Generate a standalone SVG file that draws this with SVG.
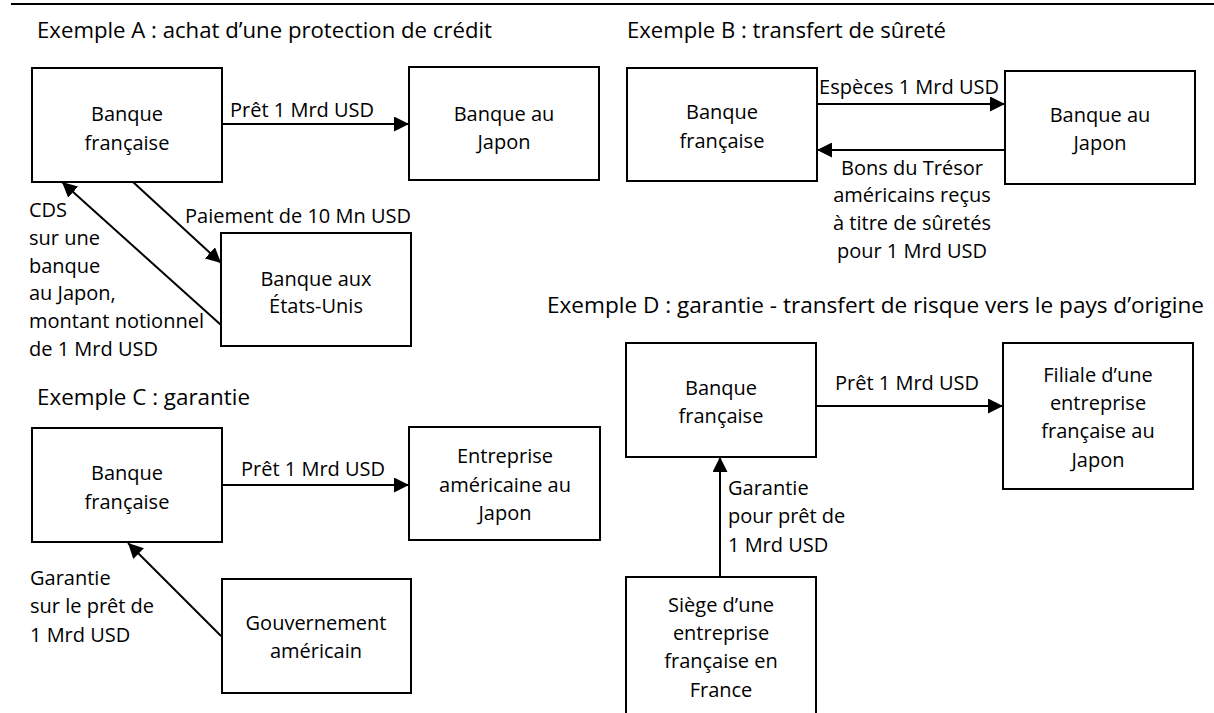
<svg xmlns="http://www.w3.org/2000/svg" width="1214" height="713" viewBox="0 0 1214 713">
<style>
text{font-family:"Open Sans","Noto Sans","Liberation Sans",sans-serif;fill:#000;}
.t{font-size:22px;}
.l{font-size:20px;}
.c{font-size:20px;text-anchor:middle;}
.box{fill:#fff;stroke:#000;stroke-width:2;}
.e{fill:none;stroke:#000;stroke-width:2;marker-end:url(#ah);}
</style>
<defs>
<marker id="ah" markerUnits="userSpaceOnUse" markerWidth="15" markerHeight="15" refX="14" refY="7" orient="auto" viewBox="0 0 14 14">
<path d="M0,0 L14,7 L0,14 z" fill="#000"/>
</marker>
</defs>
<rect width="1214" height="713" fill="#fff"/>
<line x1="11" y1="4" x2="1214" y2="4" stroke="#000" stroke-width="2"/>

<g id="titles">
<text class="t" x="37" y="38" textLength="455" lengthAdjust="spacingAndGlyphs">Exemple A : achat d’une protection de crédit</text>
<text class="t" x="627" y="38" textLength="319" lengthAdjust="spacingAndGlyphs">Exemple B : transfert de sûreté</text>
<text class="t" x="37" y="405" textLength="213" lengthAdjust="spacingAndGlyphs">Exemple C : garantie</text>
<text class="t" x="547" y="313" textLength="657" lengthAdjust="spacingAndGlyphs">Exemple D : garantie - transfert de risque vers le pays d’origine</text>
</g>

<g id="connectors">
<line class="e" x1="222" y1="124" x2="409" y2="124"/>
<line class="e" x1="133" y1="182" x2="221" y2="263"/>
<line class="e" x1="221" y1="325" x2="62" y2="182"/>
<line class="e" x1="817" y1="104" x2="1005" y2="104"/>
<line class="e" x1="1005" y1="150" x2="817" y2="150"/>
<line class="e" x1="222" y1="485" x2="409" y2="485"/>
<line class="e" x1="221" y1="636" x2="128" y2="543"/>
<line class="e" x1="816" y1="406" x2="1003" y2="406"/>
<line class="e" x1="720" y1="577" x2="720" y2="457"/>
</g>

<g id="connector-labels">
<text class="l" x="230" y="117">Prêt 1 Mrd USD</text>
<text class="l" x="185" y="223">Paiement de 10 Mn USD</text>
<text class="l" x="29" y="217">CDS</text>
<text class="l" x="29" y="245">sur une</text>
<text class="l" x="29" y="273">banque</text>
<text class="l" x="29" y="300">au Japon,</text>
<text class="l" x="29" y="328">montant notionnel</text>
<text class="l" x="29" y="356">de 1 Mrd USD</text>
<text class="c" x="909" y="94">Espèces 1 Mrd USD</text>
<text class="c" x="912" y="175">Bons du Trésor</text>
<text class="c" x="912" y="202">américains reçus</text>
<text class="c" x="912" y="230">à titre de sûretés</text>
<text class="c" x="912" y="258">pour 1 Mrd USD</text>
<text class="l" x="241" y="476">Prêt 1 Mrd USD</text>
<text class="l" x="30" y="585">Garantie</text>
<text class="l" x="30" y="613">sur le prêt de</text>
<text class="l" x="30" y="642">1 Mrd USD</text>
<text class="l" x="835" y="390">Prêt 1 Mrd USD</text>
<text class="l" x="728" y="495">Garantie</text>
<text class="l" x="728" y="523">pour prêt de</text>
<text class="l" x="728" y="552">1 Mrd USD</text>
</g>

<g id="a-banque-francaise">
<rect class="box" x="32" y="68" width="190" height="114"/>
<text class="c" x="127" y="121">Banque</text>
<text class="c" x="127" y="150">française</text>
</g>
<g id="a-banque-japon">
<rect class="box" x="409" y="67" width="190" height="113"/>
<text class="c" x="504" y="121">Banque au</text>
<text class="c" x="504" y="149">Japon</text>
</g>
<g id="a-banque-usa">
<rect class="box" x="221" y="233" width="190" height="113"/>
<text class="c" x="316" y="286">Banque aux</text>
<text class="c" x="316" y="313">États-Unis</text>
</g>

<g id="b-banque-francaise">
<rect class="box" x="627" y="68" width="190" height="113"/>
<text class="c" x="722" y="119">Banque</text>
<text class="c" x="722" y="148">française</text>
</g>
<g id="b-banque-japon">
<rect class="box" x="1005" y="71" width="190" height="113"/>
<text class="c" x="1100" y="122">Banque au</text>
<text class="c" x="1100" y="150">Japon</text>
</g>

<g id="c-banque-francaise">
<rect class="box" x="32" y="428" width="190" height="114"/>
<text class="c" x="127" y="480">Banque</text>
<text class="c" x="127" y="509">française</text>
</g>
<g id="c-entreprise">
<rect class="box" x="409" y="427" width="191" height="113"/>
<text class="c" x="505" y="463">Entreprise</text>
<text class="c" x="505" y="492">américaine au</text>
<text class="c" x="505" y="520">Japon</text>
</g>
<g id="c-gouvernement">
<rect class="box" x="222" y="579" width="189" height="114"/>
<text class="c" x="316" y="630">Gouvernement</text>
<text class="c" x="316" y="658">américain</text>
</g>

<g id="d-banque-francaise">
<rect class="box" x="626" y="343" width="190" height="114"/>
<text class="c" x="721" y="395">Banque</text>
<text class="c" x="721" y="423">française</text>
</g>
<g id="d-filiale">
<rect class="box" x="1003" y="343" width="190" height="146"/>
<text class="c" x="1098" y="382">Filiale d’une</text>
<text class="c" x="1098" y="410">entreprise</text>
<text class="c" x="1098" y="438">française au</text>
<text class="c" x="1098" y="467">Japon</text>
</g>
<g id="d-siege">
<rect class="box" x="626" y="577" width="190" height="150"/>
<text class="c" x="721" y="612">Siège d’une</text>
<text class="c" x="721" y="640">entreprise</text>
<text class="c" x="721" y="668">française en</text>
<text class="c" x="721" y="697">France</text>
</g>
</svg>
